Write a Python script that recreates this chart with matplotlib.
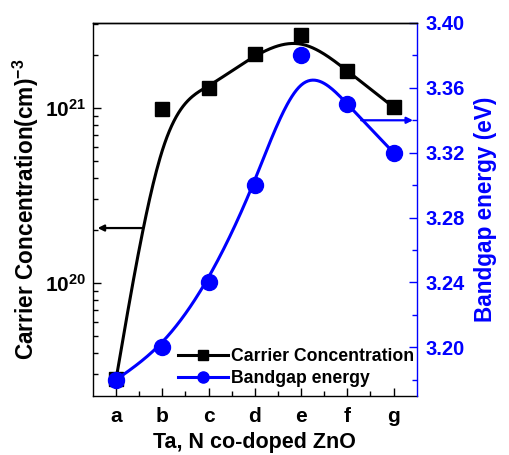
import matplotlib
matplotlib.use('Agg')
import matplotlib.pyplot as plt
import numpy as np

# =============================================================================
# Data
# =============================================================================
samples = ['a', 'b', 'c', 'd', 'e', 'f', 'g']
carrier = [2.83e19, 0.99e21, 1.30e21, 2.04e21, 2.61e21, 1.63e21, 1.01e21]
bandgap = [3.18, 3.20, 3.24, 3.30, 3.38, 3.35, 3.32]

plt.rcParams['font.family'] = 'Liberation Sans'
plt.rcParams['font.weight'] = 'bold'
plt.rcParams['mathtext.fontset'] = 'custom'
plt.rcParams['mathtext.rm'] = 'Liberation Sans:bold'
plt.rcParams['mathtext.bf'] = 'Liberation Sans:bold'
plt.rcParams['mathtext.it'] = 'Liberation Sans:bold'


def bspline(y, n=40):
    # uniform cubic B-spline, end points reflected so the curve hits them
    y = np.asarray(y, dtype=float)
    p = np.concatenate([[2 * y[0] - y[1]], y, [2 * y[-1] - y[-2]]])
    t = np.linspace(0, 1, n, endpoint=False)
    b0 = (1 - t) ** 3 / 6
    b1 = (3 * t ** 3 - 6 * t ** 2 + 4) / 6
    b2 = (-3 * t ** 3 + 3 * t ** 2 + 3 * t + 1) / 6
    b3 = t ** 3 / 6
    out = []
    for i in range(len(p) - 3):
        out.append(b0 * p[i] + b1 * p[i + 1] + b2 * p[i + 2] + b3 * p[i + 3])
    out.append([y[-1]])
    return np.concatenate(out)


x = np.arange(1, len(samples) + 1)
xs = bspline(x)
carrier_s = 10 ** bspline(np.log10(carrier))
bandgap_s = bspline(bandgap)

blue = '#0000ff'

# =============================================================================
# Plot
# =============================================================================
fig = plt.figure(figsize=(5.09, 4.55), dpi=100)
ax = fig.add_axes([0.1827, 0.1297, 0.636, 0.8198])
ax2 = ax.twinx()

ax.plot(xs, carrier_s, '-', color='black', linewidth=2.2)
ax.plot(x, carrier, 's', color='black', markersize=9.6, linestyle='none')
ax2.plot(xs, bandgap_s, '-', color=blue, linewidth=2.2)
ax2.plot(x, bandgap, 'o', color=blue, markersize=11.5, linestyle='none')

# legend proxies
h1, = ax.plot([], [], '-s', color='black', linewidth=2.2, markersize=7,
              label='Carrier Concentration')
h2, = ax.plot([], [], '-o', color=blue, linewidth=2.2, markersize=8,
              label='Bandgap energy')

ax.set_yscale('log')
ax.set_xlim(0.5, 7.5)
ax.set_ylim(2.26e19, 3.06e21)
ax2.set_ylim(3.17, 3.40)

ax.set_xticks(x)
ax.set_xticklabels(samples)
ax.set_xticks(np.arange(1.5, 7.5, 1.0), minor=True)
ax2.set_yticks([3.20, 3.24, 3.28, 3.32, 3.36, 3.40])
ax2.set_yticks(np.arange(3.18, 3.40, 0.04), minor=True)
ax2.yaxis.set_major_formatter(matplotlib.ticker.FormatStrFormatter('%.2f'))

# Labels
ax.set_xlabel('Ta, N co-doped ZnO', fontsize=15.5, fontweight='bold', labelpad=4)
ax.set_ylabel('Carrier Concentration(cm)$^{-3}$', fontsize=16.3,
              fontweight='bold', labelpad=3)
ax2.set_ylabel('Bandgap energy (eV)', fontsize=16.3, fontweight='bold',
               color=blue, labelpad=7)

# Ticks
ax.tick_params(axis='x', which='major', direction='in', length=6, width=1,
               labelsize=15, pad=8)
ax.tick_params(axis='x', which='minor', direction='in', length=3.5, width=1)
ax.tick_params(axis='y', which='major', direction='in', length=6, width=1,
               labelsize=15, pad=5)
ax.tick_params(axis='y', which='minor', direction='in', length=3.5, width=1)
ax.tick_params(top=False, right=False, which='both')
ax2.tick_params(axis='y', which='major', direction='in', length=6, width=1,
                labelsize=14.5, colors=blue, pad=6)
ax2.tick_params(axis='y', which='minor', direction='in', length=3.5, width=1,
                colors=blue)

for s in ['left', 'bottom', 'top']:
    ax.spines[s].set_linewidth(1)
ax.spines['right'].set_visible(False)
ax2.spines['right'].set_color(blue)
ax2.spines['right'].set_linewidth(1)
ax2.spines['left'].set_visible(False)
ax2.spines['top'].set_linewidth(1)
ax2.spines['bottom'].set_visible(False)

# Arrows
ax.annotate('', xy=(0.6, 2.06e20), xytext=(1.55, 2.06e20),
            arrowprops=dict(arrowstyle='-|>', color='black', lw=1.6,
                            mutation_scale=9, shrinkA=0, shrinkB=0))
ax2.annotate('', xy=(7.42, 3.34), xytext=(6.3, 3.34),
             arrowprops=dict(arrowstyle='-|>', color=blue, lw=1.6,
                             mutation_scale=9, shrinkA=0, shrinkB=0))

lgd = ax.legend(handles=[h1, h2], loc='lower right', bbox_to_anchor=(1.02, 0.0),
                fontsize=12.7, frameon=False, handlelength=2.8,
                handletextpad=0.2, labelspacing=0.3, borderaxespad=0.1)

fig.savefig('out.png', dpi=100)
